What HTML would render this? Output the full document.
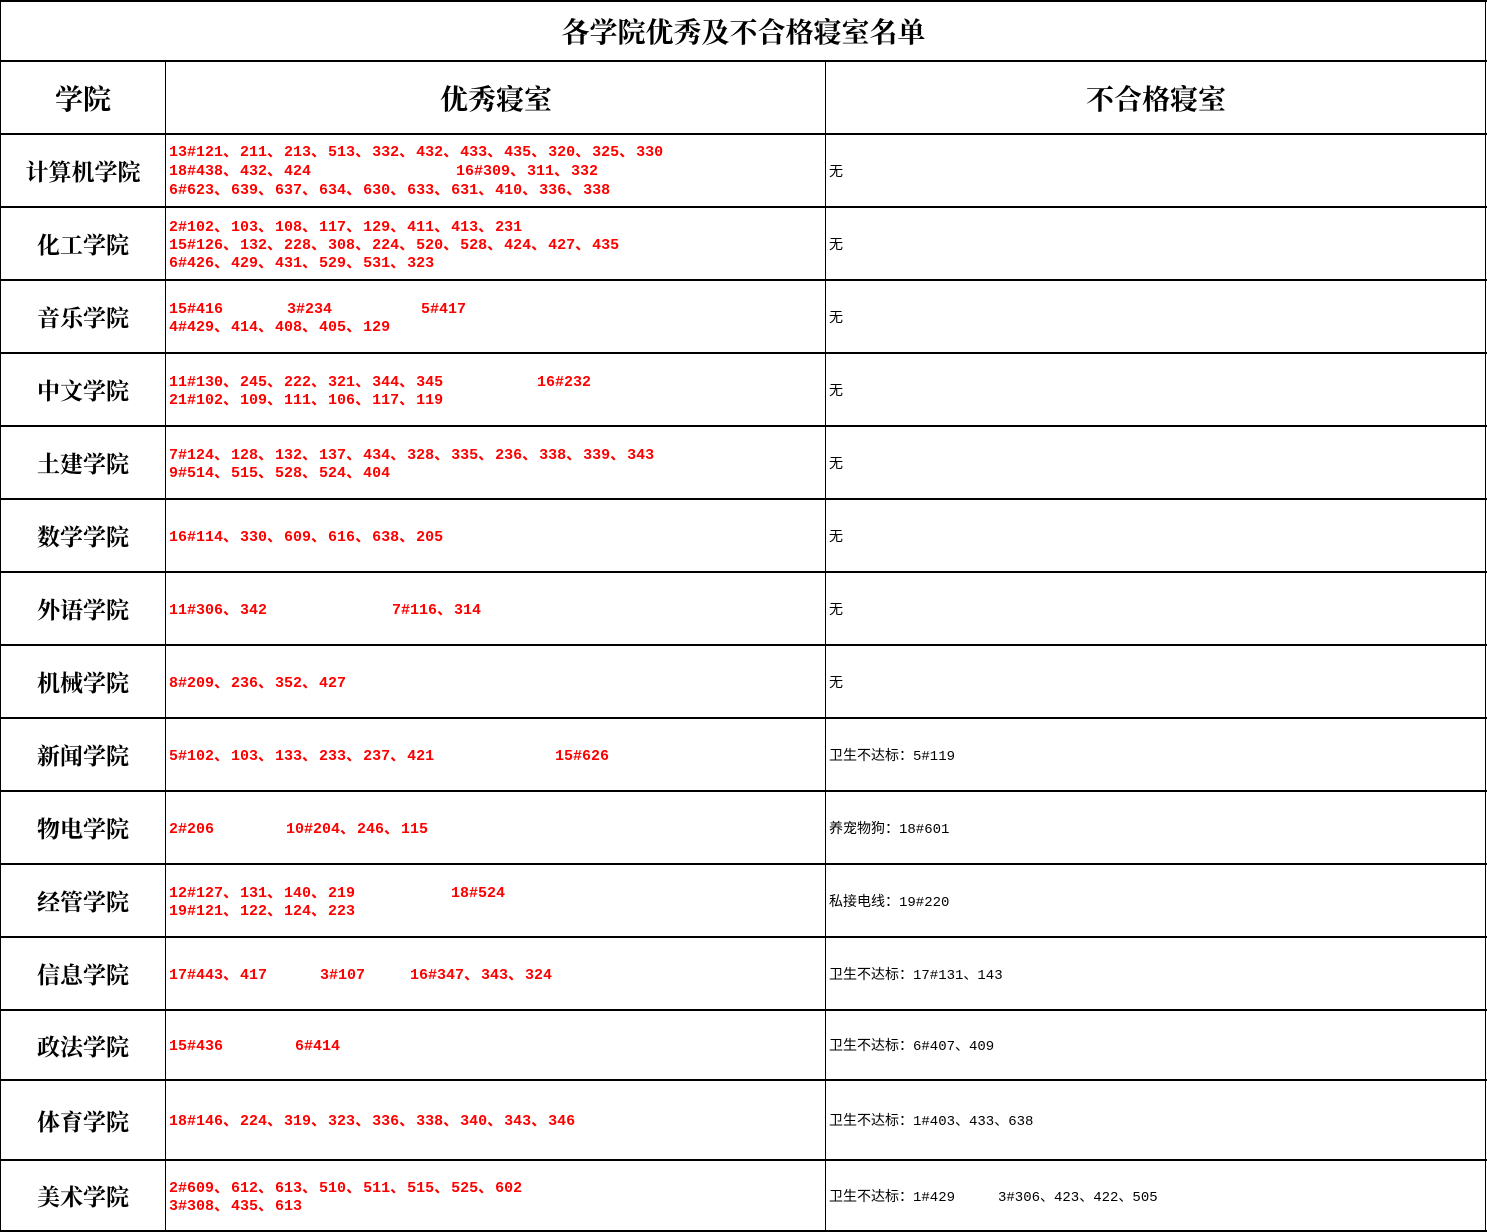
<!DOCTYPE html>
<html><head><meta charset="utf-8"><style>
body{margin:0;background:#fff;width:1487px;height:1232px;position:relative;overflow:hidden}
.h{position:absolute;height:2px;background:#000;left:0;width:1487px}
.v{position:absolute;width:1px;background:#000}
.t{position:absolute;font-family:"Liberation Serif","Noto Serif CJK SC",serif;font-weight:bold;color:#000;text-align:center;display:flex;align-items:center;justify-content:center}
.r{position:absolute;left:169px;width:655px;display:flex;flex-direction:column;justify-content:center;font-family:"Liberation Mono","Noto Sans CJK SC",monospace;font-weight:bold;font-size:15px;color:#f00;white-space:pre}
.r div{position:relative;height:18px;line-height:18px}
.r span{position:absolute;top:0}
i{font-style:normal;display:inline-block;width:17px}
.b{position:absolute;left:829px;display:flex;align-items:center;font-family:"Liberation Mono","Noto Sans CJK SC",monospace;font-size:14px;color:#000;white-space:pre}
</style></head><body>
<div class="h" style="top:0"></div>
<div class="h" style="top:60px"></div>
<div class="h" style="top:133px"></div>
<div class="h" style="top:206px"></div>
<div class="h" style="top:279px"></div>
<div class="h" style="top:352px"></div>
<div class="h" style="top:425px"></div>
<div class="h" style="top:498px"></div>
<div class="h" style="top:571px"></div>
<div class="h" style="top:644px"></div>
<div class="h" style="top:717px"></div>
<div class="h" style="top:790px"></div>
<div class="h" style="top:863px"></div>
<div class="h" style="top:936px"></div>
<div class="h" style="top:1009px"></div>
<div class="h" style="top:1079px"></div>
<div class="h" style="top:1159px"></div>
<div class="h" style="top:1230px"></div>
<div class="v" style="left:0;top:0;height:1232px"></div>
<div class="v" style="left:1485px;top:0;height:1232px"></div>
<div class="v" style="left:165px;top:60px;height:1172px"></div>
<div class="v" style="left:825px;top:60px;height:1172px"></div>

<div class="t" style="left:0;top:2px;width:1487px;height:58px;font-size:28px">各学院优秀及不合格寝室名单</div>
<div class="t" style="left:0;top:62px;width:166px;height:71px;font-size:28px">学院</div>
<div class="t" style="left:166px;top:62px;width:660px;height:71px;font-size:28px">优秀寝室</div>
<div class="t" style="left:826px;top:62px;width:660px;height:71px;font-size:28px">不合格寝室</div>

<div class="t" style="left:0;top:135px;width:166px;height:71px;font-size:23px">计算机学院</div>
<div class="t" style="left:0;top:208px;width:166px;height:71px;font-size:23px">化工学院</div>
<div class="t" style="left:0;top:281px;width:166px;height:71px;font-size:23px">音乐学院</div>
<div class="t" style="left:0;top:354px;width:166px;height:71px;font-size:23px">中文学院</div>
<div class="t" style="left:0;top:427px;width:166px;height:71px;font-size:23px">土建学院</div>
<div class="t" style="left:0;top:500px;width:166px;height:71px;font-size:23px">数学学院</div>
<div class="t" style="left:0;top:573px;width:166px;height:71px;font-size:23px">外语学院</div>
<div class="t" style="left:0;top:646px;width:166px;height:71px;font-size:23px">机械学院</div>
<div class="t" style="left:0;top:719px;width:166px;height:71px;font-size:23px">新闻学院</div>
<div class="t" style="left:0;top:792px;width:166px;height:71px;font-size:23px">物电学院</div>
<div class="t" style="left:0;top:865px;width:166px;height:71px;font-size:23px">经管学院</div>
<div class="t" style="left:0;top:938px;width:166px;height:71px;font-size:23px">信息学院</div>
<div class="t" style="left:0;top:1011px;width:166px;height:68px;font-size:23px">政法学院</div>
<div class="t" style="left:0;top:1081px;width:166px;height:78px;font-size:23px">体育学院</div>
<div class="t" style="left:0;top:1161px;width:166px;height:69px;font-size:23px">美术学院</div>

<div class="r" style="top:137px;height:71px;line-height:19px">
<div style="height:19px">13#121<i>、</i>211<i>、</i>213<i>、</i>513<i>、</i>332<i>、</i>432<i>、</i>433<i>、</i>435<i>、</i>320<i>、</i>325<i>、</i>330</div>
<div style="height:19px">18#438<i>、</i>432<i>、</i>424<span style="left:287px">16#309<i>、</i>311<i>、</i>332</span></div>
<div style="height:19px">6#623<i>、</i>639<i>、</i>637<i>、</i>634<i>、</i>630<i>、</i>633<i>、</i>631<i>、</i>410<i>、</i>336<i>、</i>338</div>
</div>
<div class="r" style="top:210px;height:71px">
<div>2#102<i>、</i>103<i>、</i>108<i>、</i>117<i>、</i>129<i>、</i>411<i>、</i>413<i>、</i>231</div>
<div>15#126<i>、</i>132<i>、</i>228<i>、</i>308<i>、</i>224<i>、</i>520<i>、</i>528<i>、</i>424<i>、</i>427<i>、</i>435</div>
<div>6#426<i>、</i>429<i>、</i>431<i>、</i>529<i>、</i>531<i>、</i>323</div>
</div>
<div class="r" style="top:283px;height:71px">
<div>15#416<span style="left:118px">3#234</span><span style="left:252px">5#417</span></div>
<div>4#429<i>、</i>414<i>、</i>408<i>、</i>405<i>、</i>129</div>
</div>
<div class="r" style="top:356px;height:71px">
<div>11#130<i>、</i>245<i>、</i>222<i>、</i>321<i>、</i>344<i>、</i>345<span style="left:368px">16#232</span></div>
<div>21#102<i>、</i>109<i>、</i>111<i>、</i>106<i>、</i>117<i>、</i>119</div>
</div>
<div class="r" style="top:429px;height:71px">
<div>7#124<i>、</i>128<i>、</i>132<i>、</i>137<i>、</i>434<i>、</i>328<i>、</i>335<i>、</i>236<i>、</i>338<i>、</i>339<i>、</i>343</div>
<div>9#514<i>、</i>515<i>、</i>528<i>、</i>524<i>、</i>404</div>
</div>
<div class="r" style="top:502px;height:71px">
<div>16#114<i>、</i>330<i>、</i>609<i>、</i>616<i>、</i>638<i>、</i>205</div>
</div>
<div class="r" style="top:575px;height:71px">
<div>11#306<i>、</i>342<span style="left:223px">7#116<i>、</i>314</span></div>
</div>
<div class="r" style="top:648px;height:71px">
<div>8#209<i>、</i>236<i>、</i>352<i>、</i>427</div>
</div>
<div class="r" style="top:721px;height:71px">
<div>5#102<i>、</i>103<i>、</i>133<i>、</i>233<i>、</i>237<i>、</i>421<span style="left:386px">15#626</span></div>
</div>
<div class="r" style="top:794px;height:71px">
<div>2#206<span style="left:117px">10#204<i>、</i>246<i>、</i>115</span></div>
</div>
<div class="r" style="top:867px;height:71px">
<div>12#127<i>、</i>131<i>、</i>140<i>、</i>219<span style="left:282px">18#524</span></div>
<div>19#121<i>、</i>122<i>、</i>124<i>、</i>223</div>
</div>
<div class="r" style="top:940px;height:71px">
<div>17#443<i>、</i>417<span style="left:151px">3#107</span><span style="left:241px">16#347<i>、</i>343<i>、</i>324</span></div>
</div>
<div class="r" style="top:1013px;height:68px">
<div>15#436<span style="left:126px">6#414</span></div>
</div>
<div class="r" style="top:1083px;height:78px">
<div>18#146<i>、</i>224<i>、</i>319<i>、</i>323<i>、</i>336<i>、</i>338<i>、</i>340<i>、</i>343<i>、</i>346</div>
</div>
<div class="r" style="top:1163px;height:69px">
<div>2#609<i>、</i>612<i>、</i>613<i>、</i>510<i>、</i>511<i>、</i>515<i>、</i>525<i>、</i>602</div>
<div>3#308<i>、</i>435<i>、</i>613</div>
</div>

<div class="b" style="top:135px;height:71px">无</div>
<div class="b" style="top:208px;height:71px">无</div>
<div class="b" style="top:281px;height:71px">无</div>
<div class="b" style="top:354px;height:71px">无</div>
<div class="b" style="top:427px;height:71px">无</div>
<div class="b" style="top:500px;height:71px">无</div>
<div class="b" style="top:573px;height:71px">无</div>
<div class="b" style="top:646px;height:71px">无</div>
<div class="b" style="top:719px;height:71px">卫生不达标：5#119</div>
<div class="b" style="top:792px;height:71px">养宠物狗：18#601</div>
<div class="b" style="top:865px;height:71px">私接电线：19#220</div>
<div class="b" style="top:938px;height:71px">卫生不达标：17#131、143</div>
<div class="b" style="top:1011px;height:68px">卫生不达标：6#407、409</div>
<div class="b" style="top:1081px;height:78px">卫生不达标：1#403、433、638</div>
<div class="b" style="top:1161px;height:69px">卫生不达标：1#429<span style="position:absolute;left:169px">3#306、423、422、505</span></div>
</body></html>
